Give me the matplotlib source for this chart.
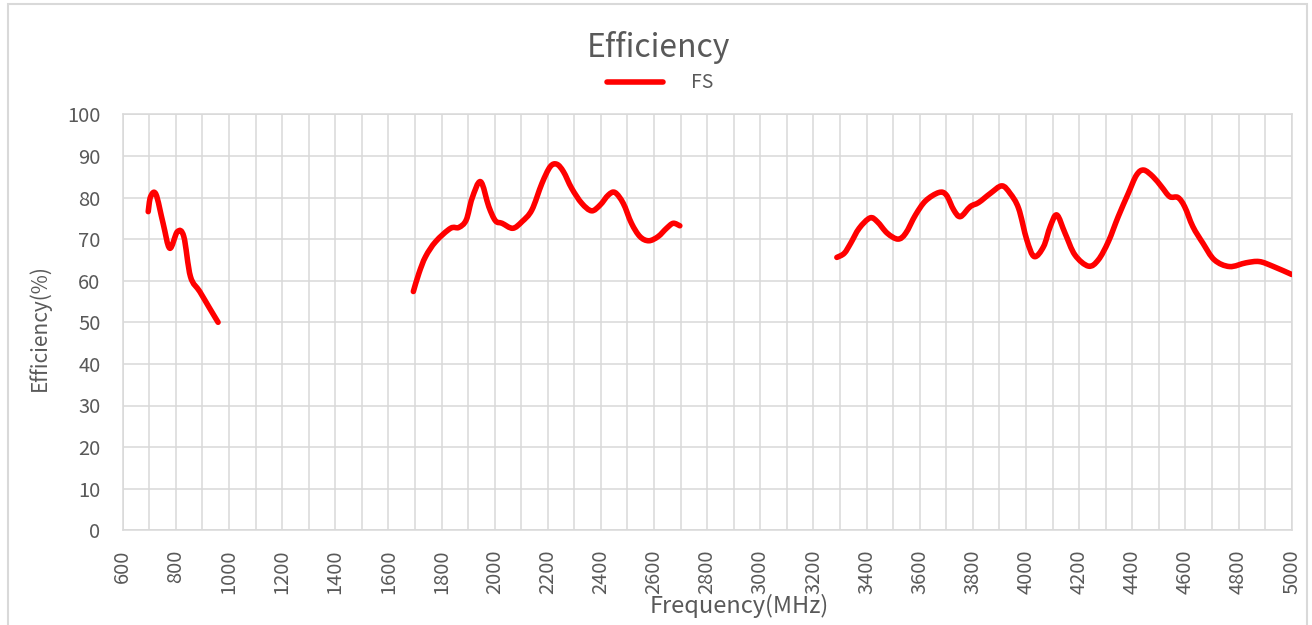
import matplotlib
matplotlib.use("Agg")
import matplotlib.pyplot as plt
from matplotlib.patches import Rectangle, PathPatch
from matplotlib.path import Path
from matplotlib.lines import Line2D
from matplotlib.ticker import MultipleLocator

plt.rcParams['font.family'] = ['Noto Sans CJK SC', 'DejaVu Sans']

# Frequency (MHz) / Efficiency (%) -- band 1
band1_freq = [696, 705, 725, 752, 777, 806, 830, 855, 890, 927, 959]
band1_eff = [76.6, 80.2, 80.8, 73.8, 67.8, 71.8, 70.6, 61.0, 57.4, 53.4, 50.0]

# band 2
band2_freq = [1694, 1715, 1740, 1778, 1834, 1865, 1893, 1915, 1947, 1978, 2003,
              2028, 2068, 2103, 2140, 2178, 2209, 2234, 2259, 2290, 2328, 2365,
              2397, 2428, 2453, 2484, 2515, 2547, 2580, 2615, 2647, 2672, 2697]
band2_eff = [57.4, 61.8, 65.8, 69.4, 72.6, 72.8, 74.6, 79.8, 83.8, 77.8, 74.4,
             73.8, 72.6, 74.2, 77.0, 83.4, 87.4, 88.0, 86.2, 82.2, 78.6, 76.8,
             78.2, 80.6, 81.2, 78.6, 73.8, 70.6, 69.6, 70.6, 72.6, 73.8, 73.2]

# band 3
band3_freq = [3288, 3316, 3340, 3372, 3413, 3440, 3478, 3518, 3547, 3584, 3622,
              3672, 3700, 3728, 3753, 3790, 3822, 3866, 3909, 3940, 3972, 4003,
              4031, 4066, 4091, 4116, 4147, 4184, 4235, 4272, 4310, 4347, 4385,
              4416, 4443, 4478, 4510, 4541, 4572, 4597, 4628, 4666, 4709, 4766,
              4828, 4878, 4928, 5000]
band3_eff = [65.6, 66.6, 69.0, 72.6, 75.1, 74.2, 71.4, 70.0, 71.4, 75.8, 79.2,
             81.2, 80.6, 77.0, 75.4, 77.8, 78.8, 81.0, 82.8, 81.0, 77.4, 69.8,
             65.8, 68.2, 73.0, 75.8, 71.4, 66.2, 63.5, 65.0, 69.4, 75.4, 81.0,
             85.4, 86.6, 85.0, 82.6, 80.2, 80.0, 77.8, 73.0, 69.0, 65.0, 63.4,
             64.3, 64.6, 63.5, 61.5]

series_label = "FS"
title_text = "Efficiency"
xlabel_text = "Frequency(MHz)"
ylabel_text = "Efficiency(%)"

W, H = 1312, 625
grey_txt = "#595959"
grid_c = "#d9d9d9"
red = "#ff0000"
lw = 4.0


def smooth_path(xs, ys):
    """Excel-style smoothed line: cubic Bezier segments through the points."""
    n = len(xs)
    verts = [(xs[0], ys[0])]
    codes = [Path.MOVETO]
    for i in range(n - 1):
        x0, y0 = (xs[i - 1], ys[i - 1]) if i > 0 else (xs[i], ys[i])
        x1, y1 = xs[i], ys[i]
        x2, y2 = xs[i + 1], ys[i + 1]
        x3, y3 = (xs[i + 2], ys[i + 2]) if i + 2 < n else (x2, y2)
        c1 = (x1 + (x2 - x0) / 6.0, y1 + (y2 - y0) / 6.0)
        c2 = (x2 - (x3 - x1) / 6.0, y2 - (y3 - y1) / 6.0)
        verts += [c1, c2, (x2, y2)]
        codes += [Path.CURVE4, Path.CURVE4, Path.CURVE4]
    return Path(verts, codes)


fig = plt.figure(figsize=(W / 100, H / 100), dpi=100)
fig.patch.set_facecolor("white")

# outer chart border
fig.patches.append(Rectangle((8 / W, -0.02), (1307 - 8) / W, 1 - 4 / H + 0.02,
                             transform=fig.transFigure, fill=False,
                             edgecolor=grid_c, linewidth=1.5))

left, right, top, bottom = 122.7, 1291.7, 114.3, 530.3
ax = fig.add_axes([left / W, 1 - bottom / H, (right - left) / W, (bottom - top) / H])

for xs, ys in [(band1_freq, band1_eff), (band2_freq, band2_eff), (band3_freq, band3_eff)]:
    patch = PathPatch(smooth_path(xs, ys), facecolor="none", edgecolor=red,
                      lw=lw, capstyle="round", joinstyle="round", zorder=3)
    ax.add_patch(patch)

ax.set_xlim(600, 5000)
ax.set_ylim(0, 100)
ax.xaxis.set_major_locator(MultipleLocator(200))
ax.xaxis.set_minor_locator(MultipleLocator(100))
ax.yaxis.set_major_locator(MultipleLocator(10))
ax.grid(True, which="both", axis="x", color=grid_c, lw=1.1)
ax.grid(True, which="major", axis="y", color=grid_c, lw=1.1)
ax.set_axisbelow(True)
for s in ax.spines.values():
    s.set_color(grid_c)
    s.set_linewidth(1.1)
ax.tick_params(which="both", length=0)
ax.tick_params(axis="x", labelrotation=90, pad=14, labelsize=14.5, labelcolor=grey_txt)
ax.tick_params(axis="y", pad=16, labelsize=14.5, labelcolor=grey_txt)

fig.text(658 / W, 1 - 48 / H, title_text, ha="center", va="center",
         fontsize=23, color=grey_txt)
fig.text(739 / W, 1 - 606 / H, xlabel_text, ha="center", va="center",
         fontsize=17, color=grey_txt)
fig.text(40 / W, 1 - 328 / H, ylabel_text, ha="center", va="center",
         rotation=90, fontsize=15, color=grey_txt)

handle = Line2D([], [], color=red, lw=lw, solid_capstyle="round")
leg = fig.legend([handle], [series_label], loc="center",
                 bbox_to_anchor=(660 / W, 1 - 83 / H), frameon=False,
                 fontsize=14, handlelength=2.9, handletextpad=1.4)
for t in leg.get_texts():
    t.set_color(grey_txt)

fig.savefig("out.png", dpi=100)
